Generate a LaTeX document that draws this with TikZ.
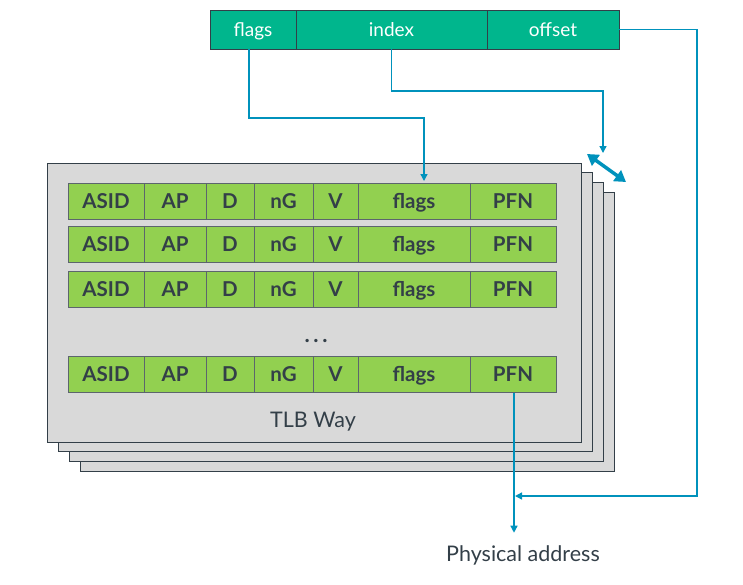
\documentclass[tikz,border=0pt]{standalone}
\usepackage{fontspec}
\setmainfont{Lato}
\usetikzlibrary{calc,arrows.meta}

\definecolor{regteal}{RGB}{0,182,141}
\definecolor{entgreen}{RGB}{146,208,80}
\definecolor{waygray}{RGB}{217,217,217}
\definecolor{inkdark}{RGB}{51,63,72}
\definecolor{linkblue}{RGB}{0,146,188}

\tikzset{
  field/.style={draw=inkdark, line width=0.9pt, fill=regteal, text=white,
    minimum height=39pt, inner sep=0pt, outer sep=0pt,
    text height=13.6pt, text depth=0pt,
    font=\fontsize{19}{19}\selectfont},
  cell/.style={draw=inkdark!80, line width=0.9pt, fill=entgreen, text=inkdark,
    minimum height=36pt, inner sep=0pt, outer sep=0pt, anchor=west,
    text height=14.7pt, text depth=0pt,
    font=\fontsize{20.5}{20.5}\selectfont\bfseries},
  wayboard/.style={draw=inkdark, line width=1pt, fill=waygray},
  link/.style={draw=linkblue, line width=1.4pt, -{Triangle[width=7pt,length=7pt]}},
  swaplink/.style={draw=linkblue, line width=3.5pt,
    {Triangle[width=13pt,length=11pt]}-{Triangle[width=13pt,length=11pt]}},
  caption/.style={text=inkdark, font=\fontsize{21.5}{21.5}\selectfont}
}

\begin{document}
\begin{tikzpicture}[x=1pt,y=-1pt]
\useasboundingbox (0,0) rectangle (743,584);

% stacked TLB ways
\foreach \k in {3,2,1,0}
  \draw[wayboard] ($(47,163)+(11*\k,9.7*\k)$) rectangle ++(534,279);

% virtual address
\node[field, minimum width=86pt] (rflags) at (253,29.5) {flags};
\node[field, minimum width=191pt] (rindex) at (391.5,29.5) {index};
\node[field, minimum width=132pt] (roffset) at (553,29.5) {offset};

% TLB entries
\foreach \r/\y in {a/201,b/244.5,c/289,d/374.5} {
  \node[cell, minimum width=76pt] (\r asid) at (68,\y) {ASID};
  \node[cell, minimum width=62pt] (\r ap) at (\r asid.east) {AP};
  \node[cell, minimum width=48pt] (\r d) at (\r ap.east) {D};
  \node[cell, minimum width=59pt] (\r ng) at (\r d.east) {nG};
  \node[cell, minimum width=45pt] (\r v) at (\r ng.east) {V};
  \node[cell, minimum width=112pt] (\r flags) at (\r v.east) {flags};
  \node[cell, minimum width=86pt] (\r pfn) at (\r flags.east) {PFN};
}
\node[text=inkdark, font=\fontsize{22}{22}\selectfont\bfseries] (dots) at (316,341) {.\,.\,.};
\node[caption] (wayname) at (313,422) {TLB Way};
\node[caption] (paddr) at (523,555) {Physical address};

% connections
\coordinate (wayhit) at (603,153);
\coordinate (swapa) at (587,154);
\coordinate (swapb) at (626,182);
\coordinate (turn) at (697,496);
\coordinate (pajoin) at (514,496);

\draw[link] ([xshift=-4pt]rflags.south) -- ++(0,69) -| ([xshift=10pt,yshift=2pt]aflags.north);
\draw[link] (rindex.south) -- ++(0,42) -| (wayhit);
\draw[swaplink] (swapa) -- (swapb);
\draw[link] (roffset.east) -| (turn) -- ([xshift=1pt]pajoin);
\draw[link] (pajoin |- dpfn.south) -- ([yshift=9pt]pajoin |- paddr.north);
\end{tikzpicture}
\end{document}
